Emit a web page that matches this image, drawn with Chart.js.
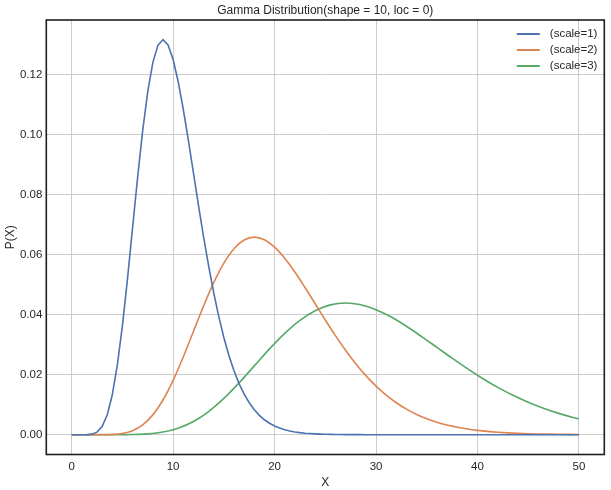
<!DOCTYPE html>
<html>
<head>
<meta charset="utf-8">
<script src="https://cdn.jsdelivr.net/npm/chart.js@4.4.1/dist/chart.umd.min.js"></script>
<style>
  html, body { margin: 0; padding: 0; background: #fff; }
  #wrap { width: 611px; height: 490px; }
</style>
</head>
<body>
<div id="wrap"><canvas id="chart" width="611" height="490"></canvas></div>
<script>
// values
const xScale1 = [0, 0.5, 1, 1.5, 2, 2.5, 3, 3.5, 4, 4.5, 5, 5.5, 6, 6.5, 7, 7.5, 8, 8.5, 9, 9.5,
  10, 10.5, 11, 11.5, 12, 12.5, 13, 13.5, 14, 14.5, 15, 15.5, 16, 16.5, 17, 17.5, 18, 18.5, 19, 19.5,
  20, 20.5, 21, 21.5, 22, 22.5, 23, 23.5, 24, 24.5, 25, 25.5, 26, 26.5, 27, 27.5, 28, 28.5, 29, 29.5,
  30, 35, 40, 45, 50];
const yScale1 = [0, 0, 0.000001, 0.000024, 0.000191, 0.000863, 0.002701, 0.006559, 0.013231, 0.02317,
  0.03627, 0.05187, 0.06884, 0.08582, 0.10140, 0.11444, 0.12409, 0.12987, 0.13176, 0.13000,
  0.12511, 0.11772, 0.10853, 0.09820, 0.08737, 0.07652, 0.06606, 0.05627, 0.04734, 0.03939,
  0.03242, 0.02641, 0.02132, 0.01705, 0.01353, 0.01065, 0.00833, 0.00646, 0.00498, 0.00382,
  0.00291, 0.00220, 0.00166, 0.00124, 0.00093, 0.00069, 0.00051, 0.00038, 0.00028, 0.00020,
  0.00015, 0.00011, 0.000076, 0.000055, 0.00004, 0.000028, 0.00002, 0.000014, 0.00001, 0.000007,
  0.000005, 0, 0, 0, 0];

const xScale2 = [0, 1, 2, 3, 4, 5, 6, 7, 8, 9, 10, 11, 12, 13, 14, 15, 16, 17, 18, 19, 20,
  21, 22, 23, 24, 25, 26, 27, 28, 29, 30, 31, 32, 33, 34, 35, 36, 37, 38, 39, 40,
  41, 42, 43, 44, 45, 46, 47, 48, 49, 50];
const yScale2 = [0, 0, 0.0000005, 0.000012, 0.0000955, 0.000432, 0.00135, 0.00328, 0.006616, 0.011585,
  0.018135, 0.025935, 0.03442, 0.04291, 0.0507, 0.05722, 0.062045, 0.064935, 0.06588, 0.065,
  0.062555, 0.05886, 0.054265, 0.0491, 0.043685, 0.03826, 0.03303, 0.028135, 0.02367, 0.019695,
  0.01621, 0.013205, 0.01066, 0.008525, 0.006765, 0.005325, 0.004165, 0.00323, 0.00249, 0.00191,
  0.001455, 0.0011, 0.00083, 0.00062, 0.000464, 0.000345, 0.000255, 0.000188, 0.000138, 0.0001,
  0.000073];

const xScale3 = [0, 1.5, 3, 4.5, 6, 7.5, 9, 10.5, 12, 13.5, 15, 16.5, 18, 19.5, 21, 22.5, 24, 25.5,
  27, 28.5, 30, 31.5, 33, 34.5, 36, 37.5, 39, 40.5, 42, 43.5, 45, 46.5, 48, 49.5, 50];
const yScale3 = [0, 0, 0.0000003, 0.000008, 0.0000637, 0.000288, 0.0009, 0.002186, 0.00441, 0.007723,
  0.01209, 0.01729, 0.02295, 0.02861, 0.0338, 0.03815, 0.04136, 0.04329, 0.04392, 0.04333,
  0.0417, 0.03924, 0.03618, 0.03273, 0.02912, 0.02551, 0.02202, 0.01876, 0.01578, 0.01313,
  0.01081, 0.0088, 0.00711, 0.00568, 0.00527];

const seriesLabels = ['(scale=1)', '(scale=2)', '(scale=3)'];
const xTicks = [0, 10, 20, 30, 40, 50];
const yTicks = [0, 0.02, 0.04, 0.06, 0.08, 0.10, 0.12];

const FONT = "'Liberation Sans', Arial, sans-serif";
const TEXT = '#262626';

function toPoints(xs, ys) {
  return xs.map((x, i) => ({ x, y: ys[i] }));
}

function makeSet(label, xs, ys, color, smooth) {
  return {
    label,
    data: toPoints(xs, ys),
    borderColor: color,
    backgroundColor: color,
    borderWidth: 1.6,
    pointRadius: 0,
    cubicInterpolationMode: smooth ? 'monotone' : 'default',
    tension: 0,
    fill: false
  };
}

// box round the plot, drawn over the curves like matplotlib spines
const framePlugin = {
  id: 'frame',
  afterDraw(chart) {
    const { ctx, chartArea: a } = chart;
    ctx.save();
    ctx.strokeStyle = '#1f1f1f';
    ctx.lineWidth = 1.6;
    ctx.strokeRect(a.left, a.top, a.right - a.left, a.bottom - a.top);
    ctx.restore();
  }
};

// legend sits inside the plot, top right
const innerLegend = {
  id: 'innerLegend',
  afterDraw(chart) {
    const { ctx, chartArea: a } = chart;
    ctx.save();
    ctx.font = '11.5px ' + FONT;
    ctx.textBaseline = 'middle';
    chart.data.datasets.forEach((ds, i) => {
      const y = a.top + 14 + i * 16;
      ctx.strokeStyle = ds.borderColor;
      ctx.lineWidth = 2;
      ctx.beginPath();
      ctx.moveTo(a.right - 87.5, y);
      ctx.lineTo(a.right - 64.5, y);
      ctx.stroke();
      ctx.fillStyle = TEXT;
      ctx.fillText(ds.label, a.right - 54.5, y);
    });
    ctx.restore();
  }
};

new Chart(document.getElementById('chart'), {
  type: 'line',
  data: {
    datasets: [
      makeSet(seriesLabels[0], xScale1, yScale1, '#4C72B0', false),
      makeSet(seriesLabels[1], xScale2, yScale2, '#DD8452', true),
      makeSet(seriesLabels[2], xScale3, yScale3, '#55A868', true)
    ]
  },
  options: {
    responsive: false,
    animation: false,
    layout: { padding: { left: 0, right: 6.7, top: 0, bottom: 0 } },
    plugins: {
      legend: { display: false },
      tooltip: { enabled: false },
      title: {
        display: true,
        fullSize: false,
        text: 'Gamma Distribution(shape = 10, loc = 0)',
        color: TEXT,
        font: { family: FONT, size: 12, weight: 'normal' },
        padding: { top: 3, bottom: 2.6 }
      }
    },
    scales: {
      x: {
        type: 'linear',
        min: -2.5,
        max: 52.5,
        afterBuildTicks: (s) => { s.ticks = xTicks.map(v => ({ value: v })); },
        afterFit: (s) => { s.height = 35.5; },
        grid: { color: '#cccccc', lineWidth: 1, drawTicks: false },
        border: { display: false },
        ticks: {
          color: TEXT,
          padding: 5,
          maxRotation: 0,
          font: { family: FONT, size: 11.5 },
          callback: (v) => String(v)
        },
        title: {
          display: true,
          text: 'X',
          color: TEXT,
          font: { family: FONT, size: 12 },
          padding: { top: 4, bottom: 0 }
        }
      },
      y: {
        type: 'linear',
        min: -0.0066,
        max: 0.1383,
        afterBuildTicks: (s) => { s.ticks = yTicks.map(v => ({ value: v })); },
        afterFit: (s) => { s.width = 46.3; },
        grid: { color: '#cccccc', lineWidth: 1, drawTicks: false },
        border: { display: false },
        ticks: {
          color: TEXT,
          padding: 4,
          font: { family: FONT, size: 11.5 },
          callback: (v) => Number(v).toFixed(2)
        },
        title: {
          display: true,
          text: 'P(X)',
          color: TEXT,
          font: { family: FONT, size: 12 },
          padding: { top: 3, bottom: 0 }
        }
      }
    }
  },
  plugins: [framePlugin, innerLegend]
});
</script>
</body>
</html>
